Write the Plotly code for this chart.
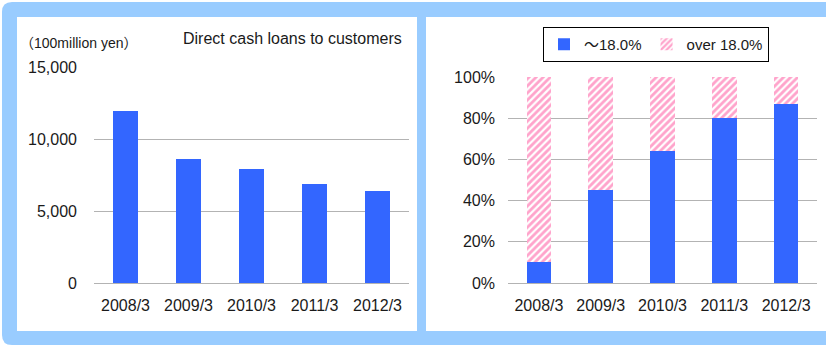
import plotly.graph_objects as go

W, H = 826, 347

categories = ["2008/3", "2009/3", "2010/3", "2011/3", "2012/3"]
loans = [11950, 8600, 7920, 6880, 6390]
share_low = [0.10, 0.45, 0.64, 0.80, 0.87]
share_high = [1 - v for v in share_low]
left_ticks = [0, 5000, 10000, 15000]
right_ticks = [0, 0.2, 0.4, 0.6, 0.8, 1.0]

BLUE = "#3366ff"
PINK = "#ffa3cb"
FRAME = "#99ccff"
GRID = "#b3b3b3"
TXT = "#1a1a1a"
FONT = "Liberation Sans, Arial, Noto Sans CJK JP, sans-serif"

def px(x):
    return x / W

def py(y):
    return 1 - y / H

fig = go.Figure()

fig.add_trace(go.Bar(
    x=categories, y=loans, marker=dict(color=BLUE, line=dict(width=0)),
    width=0.41, xaxis="x", yaxis="y", showlegend=False,
))
fig.add_trace(go.Bar(
    x=categories, y=share_low, name="～18.0%",
    marker=dict(color=BLUE, line=dict(width=0)),
    width=0.4, xaxis="x2", yaxis="y2",
))
fig.add_trace(go.Bar(
    x=categories, y=share_high, name="over 18.0%",
    marker=dict(color="white", line=dict(width=0),
                pattern=dict(shape="/", fgcolor=PINK, bgcolor="white", size=5, solidity=0.55)),
    width=0.4, xaxis="x2", yaxis="y2",
))

axis_common = dict(
    tickfont=dict(family=FONT, size=16, color=TXT),
    fixedrange=True,
    automargin=False,
)

fig.update_layout(
    template="none",
    width=W, height=H,
    margin=dict(l=0, r=0, t=0, b=0, pad=0, autoexpand=False),
    paper_bgcolor="white",
    plot_bgcolor="rgba(0,0,0,0)",
    barmode="stack",
    font=dict(family=FONT, color=TXT),
    xaxis=dict(domain=[px(94), px(409)], anchor="y", showgrid=False,
               showline=True, linecolor=GRID, linewidth=1, ticks="",
               ticklabelstandoff=8, **axis_common),
    yaxis=dict(domain=[py(283), py(67)], anchor="x", range=[0, 15000],
               tickvals=left_ticks, tickformat=",", showgrid=True,
               gridcolor=GRID, gridwidth=1, zeroline=False, showline=False,
               ticks="", ticklabelstandoff=16, **axis_common),
    xaxis2=dict(domain=[px(508), px(817)], anchor="y2", showgrid=False,
                showline=True, linecolor=GRID, linewidth=1, ticks="",
                ticklabelstandoff=8, **axis_common),
    yaxis2=dict(domain=[py(283), py(77)], anchor="x2", range=[0, 1],
                tickvals=right_ticks, tickformat=".0%", showgrid=True,
                gridcolor=GRID, gridwidth=1, zeroline=False, showline=False,
                ticks="", ticklabelstandoff=12, **axis_common),
    legend=dict(
        orientation="h", x=px(656), xanchor="center", y=py(27), yanchor="top",
        bordercolor="black", borderwidth=1, bgcolor="white",
        font=dict(family=FONT, size=15, color=TXT), traceorder="normal",
        itemwidth=30, tracegroupgap=0,
    ),
    bargap=0.6,
)

def frame_path():
    pts = [
        ("M", [(2, 12)]),
        ("Q", [(2, 2), (12, 2)]),
        ("L", [(826, 2)]),
        ("L", [(826, 345)]),
        ("L", [(12, 345)]),
        ("Q", [(2, 345), (2, 335)]),
    ]
    s = ""
    for cmd, ps in pts:
        s += cmd + " " + " ".join("{:.5f},{:.5f}".format(px(a), py(b)) for a, b in ps) + " "
    return s + "Z"

shapes = [
    dict(type="path", xref="paper", yref="paper", layer="below",
         path=frame_path(), fillcolor=FRAME, line=dict(width=0)),
    dict(type="rect", xref="paper", yref="paper", layer="below",
         x0=px(17), x1=px(417), y0=py(331), y1=py(17),
         fillcolor="white", line=dict(width=0)),
    dict(type="rect", xref="paper", yref="paper", layer="below",
         x0=px(426), x1=px(826), y0=py(331), y1=py(17),
         fillcolor="white", line=dict(width=0)),
]
fig.update_layout(shapes=shapes)

fig.add_annotation(text="（100million yen）", xref="paper", yref="paper",
                   x=px(18), y=py(43), xanchor="left", yanchor="middle",
                   showarrow=False, font=dict(family=FONT, size=14, color=TXT))
fig.add_annotation(text="Direct cash loans to customers", xref="paper", yref="paper",
                   x=px(404), y=py(38), xanchor="right", yanchor="middle",
                   showarrow=False, font=dict(family=FONT, size=16, color=TXT))

fig.write_html("out.html", config={"displayModeBar": False})
